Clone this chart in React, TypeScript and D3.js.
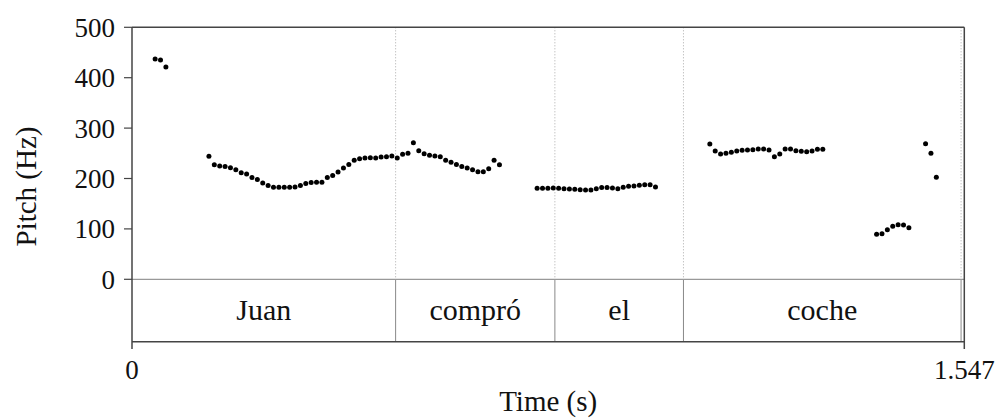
import React from 'react';
import * as d3 from 'd3';

// pitch track, one point per analysis frame: [time (s), pitch (Hz)]
const pitchPoints: [number, number][] = [
  [0.043, 437], [0.053, 435], [0.063, 421],
  [0.143, 244], [0.153, 227.5], [0.163, 225], [0.173, 224], [0.183, 221.5], [0.193, 217.6],
  [0.203, 211.6], [0.213, 209], [0.223, 202], [0.233, 197.8], [0.243, 191], [0.253, 186],
  [0.263, 182.5], [0.273, 182.5], [0.283, 182.5], [0.293, 182.5], [0.303, 183], [0.313, 186],
  [0.323, 190], [0.333, 192], [0.343, 192.5], [0.353, 192.5], [0.363, 202], [0.373, 206],
  [0.383, 213], [0.393, 221], [0.403, 228], [0.413, 236], [0.423, 239.4], [0.433, 240.7],
  [0.443, 241.4], [0.453, 240.7], [0.463, 242.7], [0.473, 243.4], [0.483, 244.7], [0.493, 240.7],
  [0.503, 248], [0.513, 250], [0.523, 271], [0.533, 255], [0.543, 249], [0.553, 246],
  [0.563, 244.6], [0.573, 243.3], [0.583, 236], [0.593, 232], [0.603, 228], [0.613, 224],
  [0.623, 220.8], [0.633, 217.5], [0.643, 213.5], [0.653, 213.5], [0.663, 219.5], [0.673, 236],
  [0.683, 227.4],
  [0.753, 180.5], [0.763, 180.5], [0.773, 180.5], [0.783, 181.2], [0.793, 180.5], [0.803, 179.9],
  [0.813, 179.2], [0.823, 178.6], [0.833, 177.9], [0.843, 177.2], [0.853, 177.2], [0.863, 179.9],
  [0.873, 181.9], [0.883, 181.9], [0.893, 181.2], [0.903, 179.9], [0.913, 182.5], [0.923, 184.5],
  [0.933, 185.2], [0.943, 186.5], [0.953, 187.8], [0.963, 187.8], [0.973, 183.2],
  [1.074, 268.5], [1.084, 254.6], [1.094, 248.6], [1.104, 249.9], [1.114, 251.9], [1.124, 254.6],
  [1.134, 255.9], [1.144, 256.5], [1.154, 257.2], [1.164, 258.5], [1.174, 258.5], [1.184, 256.5],
  [1.194, 243.3], [1.204, 248.6], [1.214, 258.5], [1.224, 258.5], [1.234, 255.2], [1.244, 253.9],
  [1.254, 253.2], [1.264, 254.6], [1.274, 257.9], [1.284, 257.9],
  [1.384, 89.3], [1.394, 90.5], [1.404, 98.5], [1.414, 105.1], [1.424, 108.4], [1.434, 107.7],
  [1.444, 102.4],
  [1.475, 269], [1.485, 250], [1.495, 202.4],
];

// word tier
const words = ['Juan', 'compró', 'el', 'coche'];
const wordStarts = [0, 0.490, 0.786, 1.025];
const wordEnds = [0.490, 0.786, 1.025, 1.541];

const yTicks = [0, 100, 200, 300, 400, 500];
const totalDuration = 1.547;
const xTickLabels = ['0', '1.547'];

const W = 999;
const H = 418;
const left = 132;
const right = 964.3;
const top = 27.3;
const zeroY = 279.3;
const tierBottom = 341.7;

const font = '"Liberation Serif", "DejaVu Serif", serif';

export default function App() {
  const x = d3.scaleLinear().domain([0, totalDuration]).range([left, right]);
  const y = d3.scaleLinear().domain([0, 500]).range([zeroY, top]);

  return (
    <svg width={W} height={H} style={{ position: 'absolute', left: 0, top: 0, background: '#fff' }}>
      {/* dotted boundary lines in pitch area */}
      {wordEnds.map((t, i) => (
        <line key={'d' + i} x1={x(t)} x2={x(t)} y1={top} y2={zeroY}
          stroke="#aaa" strokeWidth={1} strokeDasharray="1,2" />
      ))}
      {/* tier boundaries */}
      {wordEnds.map((t, i) => (
        <line key={'b' + i} x1={x(t)} x2={x(t)} y1={zeroY} y2={tierBottom}
          stroke="#888" strokeWidth={1} />
      ))}
      {/* zero line / tier top */}
      <line x1={left} x2={right} y1={zeroY} y2={zeroY} stroke="#999" strokeWidth={1.2} />

      {/* word labels */}
      {words.map((w, i) => (
        <text key={w} x={(x(wordStarts[i]) + x(wordEnds[i])) / 2} y={320}
          textAnchor="middle" fontFamily={font} fontSize={30} fill="#111">{w}</text>
      ))}

      {/* pitch dots */}
      {pitchPoints.map(([t, hz], i) => (
        <circle key={i} cx={x(t)} cy={y(hz)} r={2.5} fill="#000" />
      ))}

      {/* frame */}
      <line x1={left} x2={right} y1={top} y2={top} stroke="#444" strokeWidth={1.5} />
      <line x1={left} x2={right} y1={tierBottom} y2={tierBottom} stroke="#444" strokeWidth={1.5} />
      <line x1={left} x2={left} y1={top} y2={349} stroke="#444" strokeWidth={1.5} />
      <line x1={right} x2={right} y1={top} y2={349} stroke="#444" strokeWidth={1.5} />

      {/* y axis ticks */}
      {yTicks.map(v => (
        <g key={v}>
          <line x1={left - 8} x2={left} y1={y(v)} y2={y(v)} stroke="#444" strokeWidth={1.2} />
          <text x={left - 17} y={y(v)} dy="0.35em" textAnchor="end"
            fontFamily={font} fontSize={27} fill="#111">{v}</text>
        </g>
      ))}

      {/* x labels */}
      {[0, totalDuration].map((t, i) => (
        <text key={i} x={x(t)} y={379} textAnchor="middle"
          fontFamily={font} fontSize={27} fill="#111">{xTickLabels[i]}</text>
      ))}

      <text x={(left + right) / 2} y={411} textAnchor="middle"
        fontFamily={font} fontSize={29} fill="#111">Time (s)</text>
      <text transform={`translate(36, ${(top + tierBottom) / 2 + 2}) rotate(-90)`} textAnchor="middle"
        fontFamily={font} fontSize={29} fill="#111">Pitch (Hz)</text>
    </svg>
  );
}
